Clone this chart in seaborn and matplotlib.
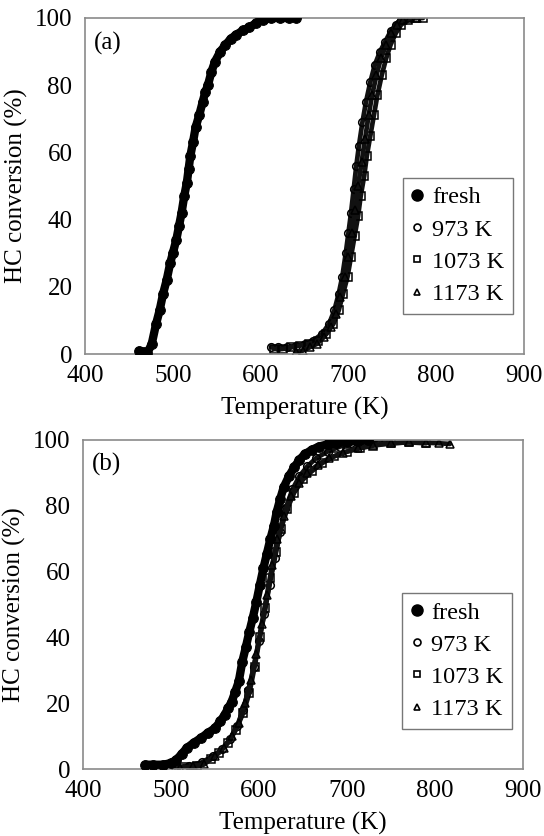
import numpy as np
import pandas as pd
import seaborn as sns
import matplotlib
matplotlib.use("Agg")
import matplotlib.pyplot as plt
from matplotlib.lines import Line2D

# ---------------- data ----------------
series_labels = ["fresh", "973 K", "1073 K", "1173 K"]
x_ticks = [400, 500, 600, 700, 800, 900]
y_ticks = [0, 20, 40, 60, 80, 100]

# panel (a)
a_fresh_T = [462, 467, 471, 476, 481, 485, 489, 493, 497, 500, 504, 507, 510, 513, 516, 518, 520, 523, 526, 530,
             534, 537, 540, 544, 548, 554, 560, 566, 572, 580, 587, 595, 603, 612, 622, 632, 640]
a_fresh_X = [1, 0.5, 0.3, 3, 9, 13, 18, 22, 27, 30, 34, 38, 42, 47, 51, 55, 59, 63, 67.5, 71,
             75, 78, 80, 84, 87, 90, 92, 93.8, 95, 96.3, 97.2, 98.5, 99.5, 100, 100, 100, 100]
a_973_T = [612, 620, 630, 640, 650, 660, 670, 678, 684, 689, 693, 697, 700, 703, 706, 709, 712, 716, 720, 725,
           730, 736, 742, 748, 754, 760, 766]
a_973_X = [2, 2, 2, 2.5, 3, 4, 6, 9, 13, 18, 23, 30, 36, 42, 49, 56, 62, 69, 75, 81,
           86, 90, 93, 96, 98, 99.5, 100]
a_1073_T = [615, 625, 635, 645, 655, 665, 675, 683, 689, 694, 699, 703, 707, 711, 714, 718, 721, 725, 729, 733,
            738, 743, 748, 754, 760, 768, 776, 785]
a_1073_X = [1.5, 1.5, 2, 2.5, 3, 4, 6, 9, 13, 18, 23, 29, 35, 41, 47, 53, 59, 65, 71, 77,
            83, 88, 92, 95.5, 98, 99.5, 100, 100]
a_1173_T = [640, 648, 656, 664, 672, 680, 686, 691, 696, 700, 704, 708, 711, 715, 719, 723, 727, 732, 737, 743,
            749, 755, 762, 770, 778]
a_1173_X = [0.5, 1, 2, 3, 5, 8, 12, 17, 23, 29, 36, 43, 50, 57, 64, 71, 77, 83, 88, 92,
            95.5, 98, 99.5, 100, 100]

# panel (b)
b_fresh_T = [471, 480, 491, 500, 506, 512, 518, 526, 534, 542, 550, 556, 561, 565, 569, 573, 577, 581, 585, 589,
             593, 597, 601, 605, 609, 613, 617, 620, 624, 628, 634, 640, 646, 652, 660, 668, 678, 688, 700, 712, 724]
b_fresh_X = [1.3, 1.3, 1.3, 1.8, 2.8, 4.5, 6.4, 8, 9.4, 11, 12.4, 14.5, 16.5, 18.5, 20.5, 23.5, 26.6, 32.6, 37, 41.7,
             46, 50.8, 56, 61, 65.5, 70, 74, 78, 82, 85.6, 89, 91.7, 94, 95.7, 97, 98, 98.7, 99, 99.5, 99.8, 100]
b_973_T = [490, 505, 520, 535, 548, 558, 567, 575, 582, 588, 594, 600, 606, 612, 618, 624, 630, 638, 646, 655,
           665, 678, 692, 705, 720, 735, 750]
b_973_X = [1, 0.5, 1, 2, 4, 6, 9, 13, 18, 24, 31, 39, 47, 56, 64, 72, 79, 85, 89, 92,
           94.5, 96.5, 98, 99, 99.5, 100, 99.8]
b_1073_T = [500, 515, 530, 545, 555, 565, 574, 582, 589, 595, 601, 607, 613, 619, 625, 632, 640, 650, 660, 672,
            685, 700, 715, 730, 750, 770, 790]
b_1073_X = [0.5, 0.5, 0.8, 3, 5, 8, 12, 17, 23, 31, 40, 49, 58, 66, 73, 79, 84, 88, 90.5, 93,
            95, 96.5, 97.5, 98.3, 99, 99.3, 99]
b_1173_T = [510, 525, 538, 550, 560, 569, 577, 584, 591, 597, 603, 609, 615, 621, 628, 636, 645, 655, 667, 680,
            695, 712, 730, 750, 770, 790, 805, 817]
b_1173_X = [0.3, 0.8, 1.5, 4, 6.5, 10, 14, 20, 27, 35, 44, 53, 62, 70, 77, 83, 87, 90, 92.5, 94.5,
            96, 97.5, 98.5, 99, 99.3, 99.2, 99, 98.8]

# ---------------- style ----------------
sns.set_theme(style="white")
plt.rcParams["font.family"] = ["Liberation Serif", "DejaVu Serif"]
plt.rcParams["text.color"] = "black"
plt.rcParams["axes.labelcolor"] = "black"
plt.rcParams["xtick.color"] = "black"
plt.rcParams["ytick.color"] = "black"

FS = 18
LFS = 17.5
marker_map = {"fresh": "o", "973 K": "o", "1073 K": "s", "1173 K": "^"}

fig = plt.figure(figsize=(5.44, 8.36), dpi=100)
ax_a = fig.add_axes([85 / 544, 1 - 354 / 836, 439 / 544, 336 / 836])
ax_b = fig.add_axes([83 / 544, 1 - 769 / 836, 440 / 544, 329 / 836])


def draw_panel(ax, data, tag, legend_anchor):
    frames = []
    for lab, (T, X) in zip(series_labels, data):
        frames.append(pd.DataFrame({"T": T, "X": X, "series": lab}))
    df = pd.concat(frames, ignore_index=True)
    for lab in series_labels:
        sub = df[df["series"] == lab]
        if lab == "fresh":
            sns.lineplot(data=sub, x="T", y="X", ax=ax, color="black", lw=6.0, sort=False,
                         marker="o", markersize=7, markeredgecolor="black", markerfacecolor="black",
                         legend=False, zorder=3)
        else:
            sns.lineplot(data=sub, x="T", y="X", ax=ax, color="#111111", lw=3.4, sort=False,
                         marker=marker_map[lab], markersize=5.5, markeredgewidth=1.1,
                         markeredgecolor="black", markerfacecolor="none",
                         legend=False, zorder=2)
    ax.set_xlim(400, 900)
    ax.set_ylim(0, 100)
    ax.set_xticks(x_ticks)
    ax.set_yticks(y_ticks)
    ax.set_xticklabels([str(v) for v in x_ticks], fontsize=FS)
    ax.set_yticklabels([str(v) for v in y_ticks], fontsize=FS)
    ax.tick_params(axis="both", length=0)
    ax.tick_params(axis="x", pad=8)
    ax.tick_params(axis="y", pad=9)
    ax.set_xlabel("Temperature (K)", fontsize=FS, labelpad=7)
    ax.set_ylabel("HC conversion (%)", fontsize=FS, labelpad=5)
    for sp in ax.spines.values():
        sp.set_color("#8a8a8a")
        sp.set_linewidth(1.2)
    ax.text(0.02, 0.925, tag, transform=ax.transAxes, fontsize=FS, va="center", ha="left")

    handles = [
        Line2D([], [], ls="none", marker="o", ms=8, mfc="black", mec="black"),
        Line2D([], [], ls="none", marker="o", ms=5, mfc="white", mec="black", mew=1.2),
        Line2D([], [], ls="none", marker="s", ms=4.5, mfc="white", mec="black", mew=1.2),
        Line2D([], [], ls="none", marker="^", ms=5, mfc="white", mec="black", mew=1.2),
    ]
    leg = ax.legend(handles, series_labels, loc="upper left", bbox_to_anchor=legend_anchor,
                    fontsize=LFS, frameon=True, fancybox=False, handlelength=0.5,
                    handletextpad=0.35, labelspacing=0.42, borderpad=0.35, borderaxespad=0)
    leg.get_frame().set_edgecolor("#555555")
    leg.get_frame().set_linewidth(1.0)


draw_panel(ax_a, [(a_fresh_T, a_fresh_X), (a_973_T, a_973_X), (a_1073_T, a_1073_X), (a_1173_T, a_1173_X)],
           "(a)", (0.724, 0.524))
draw_panel(ax_b, [(b_fresh_T, b_fresh_X), (b_973_T, b_973_X), (b_1073_T, b_1073_X), (b_1173_T, b_1173_X)],
           "(b)", (0.725, 0.535))

fig.savefig("out.png", dpi=100)
